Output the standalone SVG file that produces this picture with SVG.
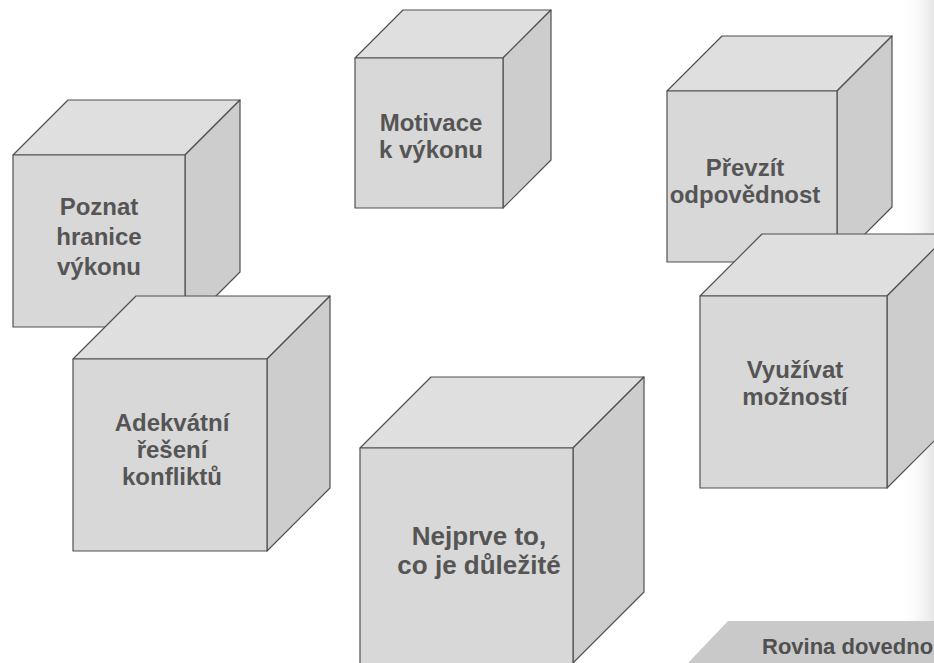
<svg xmlns="http://www.w3.org/2000/svg" width="934" height="663" viewBox="0 0 934 663">
  <style>
    .front { fill: #d8d8d8; stroke: #505050; stroke-width: 1.2; stroke-linejoin: round; }
    .top { fill: #dfdfdf; stroke: #505050; stroke-width: 1.2; stroke-linejoin: round; }
    .side { fill: #cdcdcd; stroke: #505050; stroke-width: 1.2; stroke-linejoin: round; }
    .lbl { font-family: "Liberation Sans", Arial, sans-serif; font-weight: bold; fill: #555555; text-anchor: middle; font-size: 24px; }
    .big { font-size: 26px; }
    .band { font-family: "Liberation Sans", Arial, sans-serif; font-weight: bold; fill: #505050; font-size: 22px; }
  </style>
  <defs>
    <linearGradient id="edge" x1="0" y1="0" x2="1" y2="0">
      <stop offset="0" stop-color="#ffffff" stop-opacity="0"/>
      <stop offset="1" stop-color="#e6e6e6"/>
    </linearGradient>
  </defs>
  <rect x="0" y="0" width="934" height="663" fill="#ffffff"/>
  <rect x="900" y="0" width="34" height="621" fill="url(#edge)"/>

  <g id="poznat">
    <polygon class="top" points="13,155 68,100 240,100 185,155"/>
    <polygon class="side" points="185,155 240,100 240,272 185,327"/>
    <rect class="front" x="13" y="155" width="172" height="172"/>
    <text class="lbl" x="99" y="215">Poznat</text>
    <text class="lbl" x="99" y="245">hranice</text>
    <text class="lbl" x="99" y="275">výkonu</text>
  </g>

  <g id="adekvatni">
    <polygon class="top" points="73,359 136,296 330,296 267,359"/>
    <polygon class="side" points="267,359 330,296 330,488 267,551"/>
    <rect class="front" x="73" y="359" width="194" height="192"/>
    <text class="lbl" x="172" y="431">Adekvátní</text>
    <text class="lbl" x="172" y="458">řešení</text>
    <text class="lbl" x="172" y="485">konfliktů</text>
  </g>

  <g id="motivace">
    <polygon class="top" points="355,58 403,10 551,10 503,58"/>
    <polygon class="side" points="503,58 551,10 551,160 503,208"/>
    <rect class="front" x="355" y="58" width="148" height="150"/>
    <text class="lbl" x="431" y="131">Motivace</text>
    <text class="lbl" x="431" y="158">k výkonu</text>
  </g>

  <g id="prevzit">
    <polygon class="top" points="667,91 722,36 892,36 837,91"/>
    <polygon class="side" points="837,91 892,36 892,207 837,262"/>
    <rect class="front" x="667" y="91" width="170" height="171"/>
    <text class="lbl" x="745" y="176">Převzít</text>
    <text class="lbl" x="745" y="203">odpovědnost</text>
  </g>

  <g id="vyuzivat">
    <polygon class="top" points="700,296 762,234 949,234 887,296"/>
    <polygon class="side" points="887,296 949,234 949,426 887,488"/>
    <rect class="front" x="700" y="296" width="187" height="192"/>
    <text class="lbl" x="795" y="378">Využívat</text>
    <text class="lbl" x="795" y="405">možností</text>
  </g>

  <g id="nejprve">
    <polygon class="top" points="360,448 431,377 644,377 573,448"/>
    <polygon class="side" points="573,448 644,377 644,592 573,663"/>
    <rect class="front" x="360" y="448" width="213" height="220"/>
    <text class="lbl big" x="479" y="545">Nejprve to,</text>
    <text class="lbl big" x="479" y="574">co je důležité</text>
  </g>

  <g id="rovina">
    <polygon points="728,621 934,621 934,680 688,680 688,663" fill="#c9c9c9"/>
    <text class="band" x="762" y="654">Rovina dovedno</text>
  </g>

  <g id="connectors"></g>
</svg>
